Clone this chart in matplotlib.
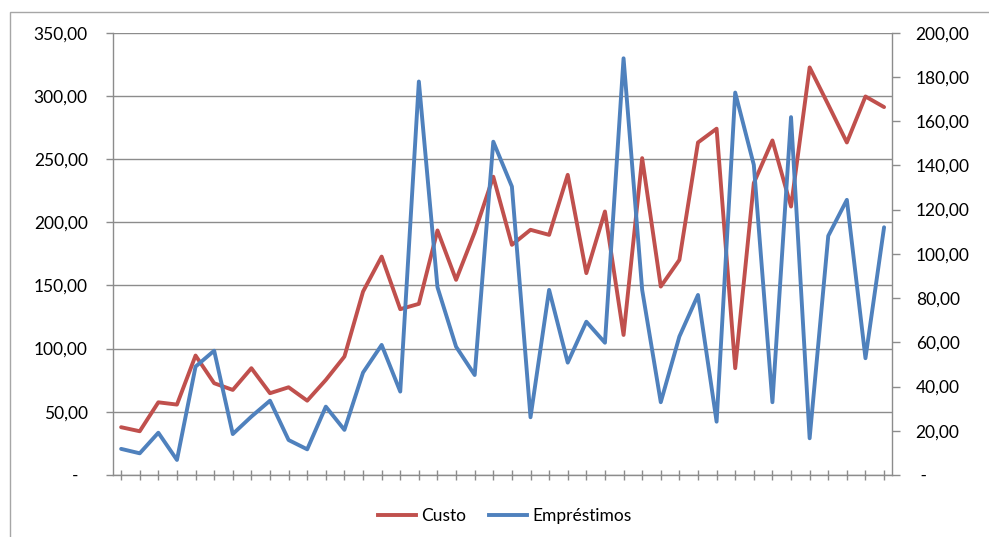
import matplotlib
matplotlib.use('Agg')
import matplotlib.pyplot as plt
from matplotlib.patches import Rectangle
from matplotlib.lines import Line2D
from matplotlib.ticker import FuncFormatter, MultipleLocator
import numpy as np

# fonte parecida com Calibri
plt.rcParams['font.family'] = ['Lato', 'DejaVu Sans']

# valores por período
custo = [37.8, 34.6, 57.5, 55.7, 94.5, 72.6, 67.3, 84.5, 64.7, 69.4, 58.8, 75.2,
         93.7, 145.1, 172.8, 131.2, 135.4, 193.5, 154.4, 192.0, 236.0, 182.1,
         194.0, 190.0, 237.5, 159.7, 208.5, 110.8, 250.7, 149.1, 170.2, 263.1,
         274.0, 84.5, 231.0, 264.7, 212.4, 322.5, 293.0, 263.1, 299.5, 291.1]
emprestimos = [11.8, 9.8, 19.1, 6.8, 49.0, 56.2, 18.5, 26.4, 33.6, 15.8, 11.6,
               30.9, 20.4, 46.3, 58.8, 37.7, 177.9, 84.9, 58.0, 45.2, 150.7,
               130.4, 26.1, 83.7, 50.8, 69.3, 59.8, 188.4, 83.7, 32.9, 62.6,
               81.4, 24.1, 172.9, 140.2, 32.9, 161.8, 16.6, 108.1, 124.4, 52.8,
               112.0]
periodos = np.arange(len(custo))

cor_custo = '#C0504D'
cor_emp = '#4F81BD'
cinza = '#8c8c8c'
tam = 12.5


def fmt_esq(v, pos):
    if abs(v) < 1e-9:
        return '-  '
    return f'{v:.2f}'.replace('.', ',')


def fmt_dir(v, pos):
    if abs(v) < 1e-9:
        return ' -'
    return f'{v:.2f}'.replace('.', ',')


fig = plt.figure(figsize=(9.89, 5.37), dpi=100)
ax = fig.add_axes([0.1140, 0.1155, 0.7880, 0.8237])
ax2 = ax.twinx()

ax.plot(periodos, custo, color=cor_custo, lw=2.8,
        solid_joinstyle='round', solid_capstyle='round')
ax2.plot(periodos, emprestimos, color=cor_emp, lw=2.8,
         solid_joinstyle='round', solid_capstyle='round')

ax.set_xlim(-0.45, len(custo) - 1 + 0.43)
ax.set_ylim(0, 350)
ax2.set_ylim(0, 200)
ax.yaxis.set_major_locator(MultipleLocator(50))
ax2.yaxis.set_major_locator(MultipleLocator(20))
ax.yaxis.set_major_formatter(FuncFormatter(fmt_esq))
ax2.yaxis.set_major_formatter(FuncFormatter(fmt_dir))

ax.set_xticks(periodos)
ax.set_xticklabels([])
ax.tick_params(axis='x', direction='inout', length=7, width=1, color=cinza)
ax.tick_params(axis='y', direction='out', length=5, width=1, color=cinza,
               pad=13, labelsize=tam, labelcolor='black')
ax2.tick_params(axis='y', direction='out', length=5.5, width=1, color=cinza,
                pad=11.5, labelsize=tam, labelcolor='black')

# grade horizontal pelo eixo da esquerda
ax.yaxis.grid(True, color=cinza, lw=1)
ax.set_axisbelow(True)

for s in ['top', 'right']:
    ax.spines[s].set_visible(False)
for s in ['top', 'left', 'bottom']:
    ax2.spines[s].set_visible(False)
for s in ['left', 'bottom']:
    ax.spines[s].set_color(cinza)
    ax.spines[s].set_linewidth(1)
ax2.spines['right'].set_color(cinza)
ax2.spines['right'].set_linewidth(1)

handles = [Line2D([], [], color=cor_custo, lw=2.8),
           Line2D([], [], color=cor_emp, lw=2.8)]
fig.legend(handles, ['Custo', 'Empréstimos'], loc='center',
           bbox_to_anchor=(505 / 989, 1 - 516 / 537), ncol=2, frameon=False,
           fontsize=tam, handlelength=2.2, handletextpad=0.3,
           columnspacing=1.3)

# moldura da área do gráfico
fig.patches.append(Rectangle((10 / 989, -0.1), 1.2, 1 - 12 / 537 + 0.1,
                             transform=fig.transFigure, fill=False,
                             ec='#a6a6a6', lw=1))

fig.savefig('out.png', dpi=100)
